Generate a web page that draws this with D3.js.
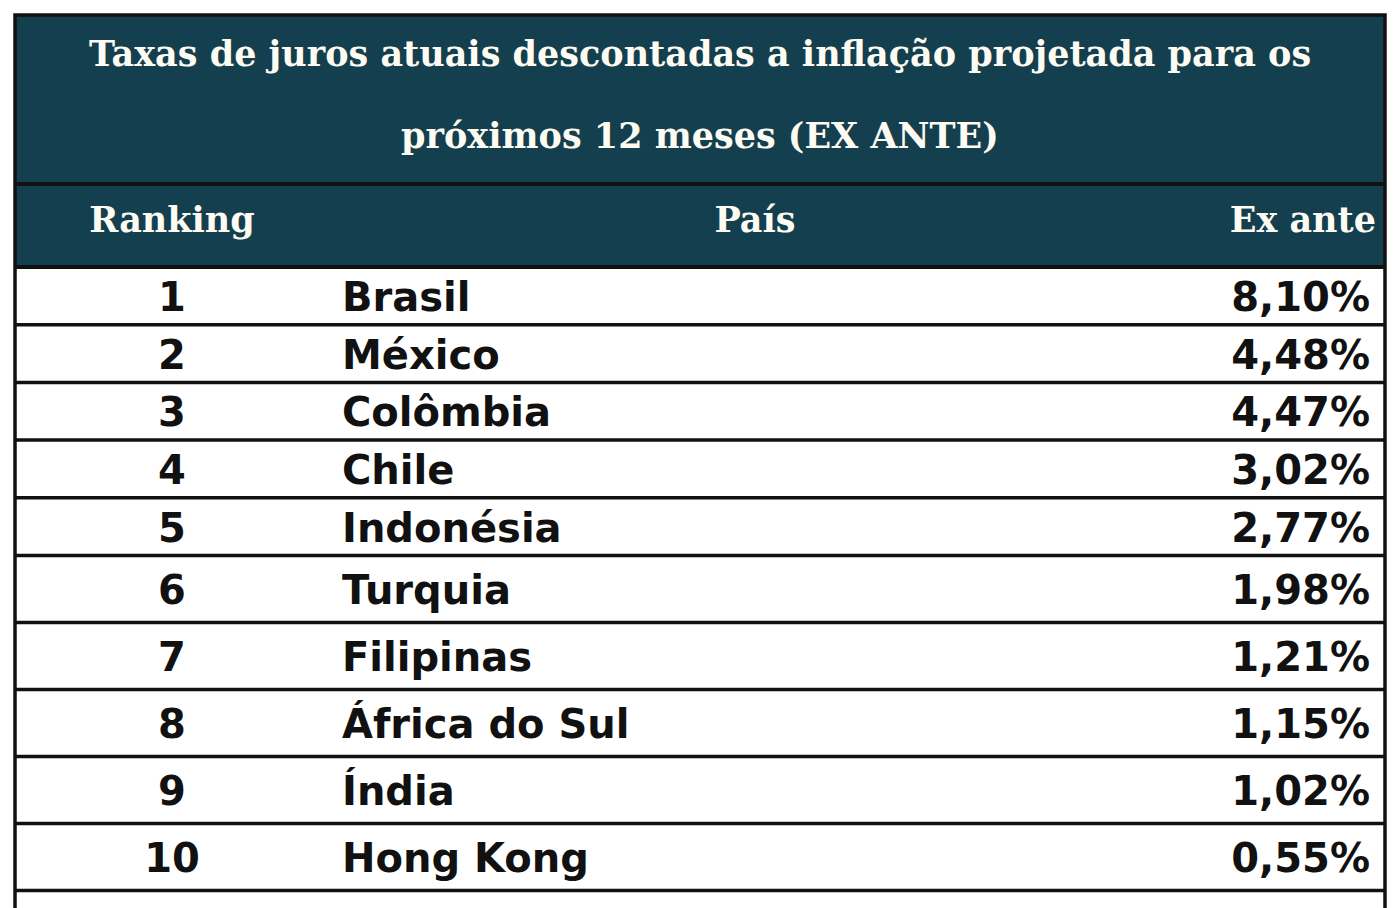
<!DOCTYPE html>
<html>
<head>
<meta charset="utf-8">
<script src="https://cdn.jsdelivr.net/npm/d3@7"></script>
<style>
  body { margin: 0; background: #fff; }
</style>
</head>
<body>
<script>
// table data
const titleLines = ['Taxas de juros atuais descontadas a inflação projetada para os', 'próximos 12 meses (EX ANTE)'];
const headers = ['Ranking', 'País', 'Ex ante'];
const ranks = [1, 2, 3, 4, 5, 6, 7, 8, 9, 10];
const countries = ['Brasil', 'México', 'Colômbia', 'Chile', 'Indonésia', 'Turquia', 'Filipinas', 'África do Sul', 'Índia', 'Hong Kong'];
const values = [8.10, 4.48, 4.47, 3.02, 2.77, 1.98, 1.21, 1.15, 1.02, 0.55];

const W = 1400, H = 908;
const teal = '#143f4f';
const left = 15, right = 1385;
const fmt = d3.formatLocale({ decimal: ',', thousands: '.', grouping: [3], currency: ['', ''] }).format('.2f');

const svg = d3.select('body').append('svg').attr('width', W).attr('height', H);

// title + header bands
svg.append('rect').attr('x', left).attr('y', 15).attr('width', right - left).attr('height', 252).attr('fill', teal);

const serif = '"DejaVu Serif", "Liberation Serif", serif';
const sans = '"DejaVu Sans", "Noto Sans", sans-serif';

svg.selectAll('.title').data(titleLines).join('text')
  .attr('x', (left + right) / 2)
  .attr('y', (d, i) => 66 + i * 82)
  .attr('text-anchor', 'middle')
  .attr('fill', '#fdfbf2')
  .attr('font-family', serif)
  .attr('font-weight', 'bold')
  .attr('font-size', 35)
  .text((d) => d);

const colX = [172, 755, 1376];
const anchors = ['middle', 'middle', 'end'];
svg.selectAll('.hdr').data(headers).join('text')
  .attr('x', (d, i) => colX[i])
  .attr('y', 232)
  .attr('text-anchor', (d, i) => anchors[i])
  .attr('fill', '#fdfbf2')
  .attr('font-family', serif)
  .attr('font-weight', 'bold')
  .attr('font-size', 35)
  .text((d) => d);

// row layout: first five rows are shorter than the last five
const rowTop = (i) => 267 + (i < 5 ? i * 57.7 : 5 * 57.7 + (i - 5) * 67);
const rowH = (i) => (i < 5 ? 57.7 : 67);

const rows = svg.selectAll('.row').data(ranks).join('g')
  .attr('transform', (d, i) => `translate(0,${rowTop(i)})`);

rows.append('text')
  .attr('x', 172).attr('y', (d, i) => rowH(i) / 2 + 15)
  .attr('text-anchor', 'middle')
  .attr('font-family', sans).attr('font-weight', (d, i) => (i === 0 ? 'bold' : 600))
  .attr('font-size', 40).attr('fill', '#111')
  .text((d) => d);

rows.append('text')
  .attr('x', 342).attr('y', (d, i) => rowH(i) / 2 + 15)
  .attr('font-family', sans).attr('font-weight', (d, i) => (i === 0 ? 'bold' : 600))
  .attr('font-size', 40).attr('fill', '#111')
  .text((d, i) => countries[i]);

rows.append('text')
  .attr('x', 1370).attr('y', (d, i) => rowH(i) / 2 + 15)
  .attr('text-anchor', 'end')
  .attr('font-family', sans).attr('font-weight', (d, i) => (i === 0 ? 'bold' : 600))
  .attr('font-size', 40).attr('fill', '#111')
  .text((d, i) => `${fmt(values[i])}%`);

// grid lines
const lineYs = [184, 267].concat(ranks.map((d, i) => rowTop(i) + rowH(i)));
svg.selectAll('.hl').data(lineYs).join('line')
  .attr('x1', left).attr('x2', right)
  .attr('y1', (d) => d).attr('y2', (d) => d)
  .attr('stroke', '#111').attr('stroke-width', (d, i) => (i < 2 ? 4 : 3.5));

svg.append('path')
  .attr('d', `M${left},${H} V15 H${right} V${H}`)
  .attr('fill', 'none').attr('stroke', '#111').attr('stroke-width', 3.5);
</script>
</body>
</html>
